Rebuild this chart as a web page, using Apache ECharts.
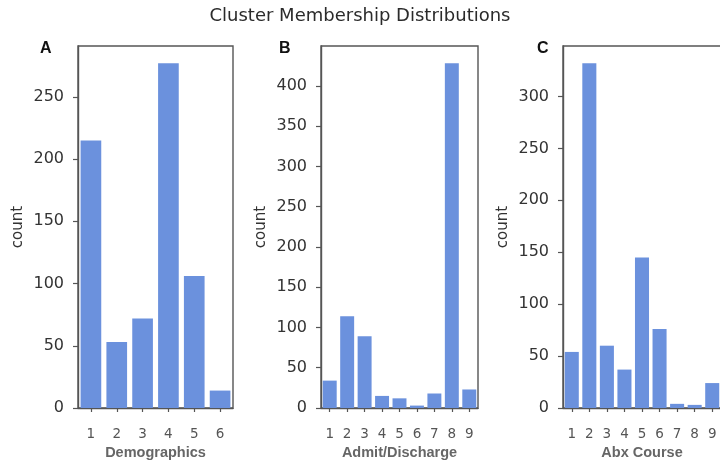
<!DOCTYPE html>
<html>
<head>
<meta charset="utf-8">
<title>Cluster Membership Distributions</title>
<script src="https://cdn.jsdelivr.net/npm/echarts@6/dist/echarts.min.js"></script>
<style>
  html, body { margin: 0; padding: 0; background: #ffffff; }
  #chart { width: 720px; height: 461px; }
</style>
</head>
<body>
<div id="chart"></div>
<script>
// Cluster sizes per feature group
const demoClusters = ['1', '2', '3', '4', '5', '6'];
const demoCounts = [215, 53, 72, 277, 106, 14];

const admitClusters = ['1', '2', '3', '4', '5', '6', '7', '8', '9'];
const admitCounts = [34, 114, 89, 15, 12, 3, 18, 428, 23];

const abxClusters = ['1', '2', '3', '4', '5', '6', '7', '8', '9'];
const abxCounts = [54, 332, 60, 37, 145, 76, 4, 3, 24];

// y-axis tick labels per panel
const demoTicks = [0, 50, 100, 150, 200, 250];
const admitTicks = [0, 50, 100, 150, 200, 250, 300, 350, 400];
const abxTicks = [0, 50, 100, 150, 200, 250, 300];

const panelLetters = ['A', 'B', 'C'];
const axisNames = ['Demographics', 'Admit/Discharge', 'Abx Course'];

const barColor = '#6b91dd';
const spineColor = '#555555';
const sansFont = 'DejaVu Sans';
const boldFont = 'Liberation Sans';

const panels = [
  { cats: demoClusters, vals: demoCounts, ticks: demoTicks, left: 78, width: 155, letterX: 46 },
  { cats: admitClusters, vals: admitCounts, ticks: admitTicks, left: 321, width: 157, letterX: 285 },
  { cats: abxClusters, vals: abxCounts, ticks: abxTicks, left: 563, width: 158, letterX: 543 }
];

const chart = echarts.init(document.getElementById('chart'), null, { renderer: 'canvas' });

const option = {
  backgroundColor: '#ffffff',
  animation: false,
  title: [
    {
      text: 'Cluster Membership Distributions',
      left: 'center',
      top: 7,
      padding: 0,
      textStyle: { fontFamily: sansFont, fontSize: 18, fontWeight: 'normal', color: '#2b2b2b' }
    }
  ].concat(panels.map((p, i) => ({
    text: panelLetters[i],
    left: p.letterX - 6,
    top: 41,
    padding: 0,
    textStyle: { fontFamily: boldFont, fontSize: 16, fontWeight: 'bold', color: '#111111' }
  }))),
  grid: panels.map(p => ({
    left: p.left,
    width: p.width,
    top: 46,
    bottom: 53,
    show: true,
    borderColor: spineColor,
    borderWidth: 1.4,
    backgroundColor: 'transparent',
    containLabel: false,
    outerBoundsMode: 'none'
  })),
  xAxis: panels.map((p, i) => ({
    type: 'category',
    gridIndex: i,
    data: p.cats,
    name: axisNames[i],
    nameLocation: 'middle',
    nameGap: 35,
    nameTextStyle: { fontFamily: boldFont, fontSize: 14.5, fontWeight: 'bold', color: '#666666' },
    axisLine: { show: true, lineStyle: { color: spineColor, width: 1.4 } },
    axisTick: { show: true, alignWithLabel: true, length: 4, lineStyle: { color: spineColor, width: 1.2 } },
    axisLabel: { interval: 0, margin: 19, fontFamily: sansFont, fontSize: 13.5, color: '#555555' },
    splitLine: { show: false }
  })),
  yAxis: panels.map((p, i) => ({
    type: 'value',
    gridIndex: i,
    min: 0,
    max: v => v.max * 1.05,
    name: 'count',
    nameLocation: 'middle',
    nameGap: 52,
    nameTextStyle: { fontFamily: sansFont, fontSize: 15, color: '#333333' },
    axisLine: { show: true, lineStyle: { color: spineColor, width: 1.4 } },
    axisTick: { show: true, length: 5, customValues: p.ticks, lineStyle: { color: spineColor, width: 1.2 } },
    axisLabel: { margin: 14, customValues: p.ticks, fontFamily: sansFont, fontSize: 16, color: '#333333' },
    splitLine: { show: false }
  })),
  series: panels.map((p, i) => ({
    type: 'bar',
    xAxisIndex: i,
    yAxisIndex: i,
    data: p.vals,
    barCategoryGap: '20%',
    itemStyle: { color: barColor },
    silent: true
  }))
};

chart.setOption(option);
</script>
</body>
</html>
